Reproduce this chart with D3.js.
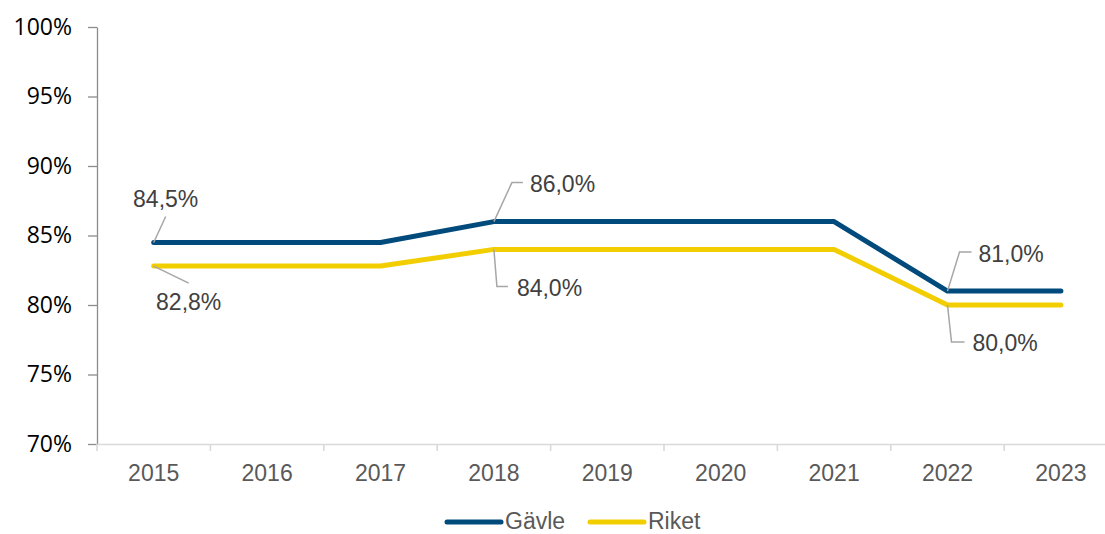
<!DOCTYPE html>
<html>
<head>
<meta charset="utf-8">
<script src="https://cdn.jsdelivr.net/npm/d3@7"></script>
<style>
  body { margin: 0; background: #fff; }
  svg { display: block; }
</style>
</head>
<body>
<div id="chart"></div>
<script>
// data
const years = ["2015", "2016", "2017", "2018", "2019", "2020", "2021", "2022", "2023"];
const gavle = [84.5, 84.5, 84.5, 86.0, 86.0, 86.0, 86.0, 81.0, 81.0];
const riket = [82.8, 82.8, 82.8, 84.0, 84.0, 84.0, 84.0, 80.0, 80.0];
const yTicks = [70, 75, 80, 85, 90, 95, 100];
const seriesNames = ["Gävle", "Riket"];
const seriesColors = ["#004a7c", "#f2ce00"];

// which points carry a label, and how the leader is bent (pixel offsets from the point)
const labelSpots = [
    {s: 0, i: 0, elbow: [12, -26], end: [12, -26], text: [12, -35], anchor: "middle"},
    {s: 1, i: 0, elbow: [35, 17], end: [35, 17], text: [35, 44], anchor: "middle"},
    {s: 0, i: 3, elbow: [18, -39], end: [29, -39], text: [36, -30], anchor: "start"},
    {s: 1, i: 3, elbow: [3, 37], end: [14, 37], text: [23, 47], anchor: "start"},
    {s: 0, i: 7, elbow: [12, -39], end: [24, -39], text: [31, -29], anchor: "start"},
    {s: 1, i: 7, elbow: [4, 37], end: [17, 37], text: [25, 46], anchor: "start"}
];

const config = {
    width: 1105,
    height: 534,
    left: 97,
    top: 27,
    bottom: 444,
    band: 113.4
};

const series = [gavle, riket];
const fmt = (v) => d3.format(".1f")(v).replace(".", ",") + "%";

const svg = d3.select("#chart").append("svg")
    .attr("width", config.width)
    .attr("height", config.height);

const x = d3.scaleBand().domain(years)
    .range([config.left, config.left + config.band * years.length]);
const y = d3.scaleLinear().domain([70, 100]).range([config.bottom, config.top]);
const cx = (i) => x(years[i]) + x.bandwidth() / 2;

// y axis
const yAxis = svg.append("g")
    .attr("transform", `translate(${config.left},0)`)
    .call(d3.axisLeft(y).tickValues(yTicks).tickSize(9).tickSizeOuter(0).tickPadding(16)
        .tickFormat((d) => d + "%"));
yAxis.select(".domain").attr("stroke", "#8c8c8c").attr("stroke-width", 1.3);
yAxis.selectAll(".tick line").attr("stroke", "#8c8c8c").attr("stroke-width", 1.3);
yAxis.selectAll(".tick text")
    .attr("fill", "#000")
    .style("font-family", "'Open Sans', sans-serif")
    .style("font-size", "23px");

// x axis: labels centred, ticks at the band edges
const xAxis = svg.append("g")
    .attr("transform", `translate(0,${config.bottom})`)
    .call(d3.axisBottom(x).tickSize(0).tickPadding(21));
xAxis.select(".domain").attr("stroke", "#d9d9d9").attr("stroke-width", 1.6);
xAxis.selectAll(".tick text")
    .attr("fill", "#595959")
    .style("font-family", "'Liberation Sans', Arial, sans-serif")
    .style("font-size", "23px");

svg.append("g").selectAll("line")
    .data(years.map((d) => x(d)))
    .join("line")
    .attr("x1", (d) => d).attr("x2", (d) => d)
    .attr("y1", config.bottom).attr("y2", config.bottom + 7)
    .attr("stroke", "#d9d9d9").attr("stroke-width", 1.6);

// lines
const line = d3.line()
    .x((d, i) => cx(i))
    .y((d) => y(d));

svg.append("g").selectAll("path")
    .data(series)
    .join("path")
    .attr("d", line)
    .attr("fill", "none")
    .attr("stroke", (d, i) => seriesColors[i])
    .attr("stroke-width", 5)
    .attr("stroke-linecap", "round")
    .attr("stroke-linejoin", "round");

// data labels with leader lines
const labels = svg.append("g");
labelSpots.forEach((l) => {
    const px = cx(l.i), py = y(series[l.s][l.i]);
    labels.append("polyline")
        .attr("points", [[px, py], [px + l.elbow[0], py + l.elbow[1]], [px + l.end[0], py + l.end[1]]].join(" "))
        .attr("fill", "none")
        .attr("stroke", "#a6a6a6")
        .attr("stroke-width", 1.5);
    labels.append("text")
        .attr("x", px + l.text[0])
        .attr("y", py + l.text[1])
        .attr("text-anchor", l.anchor)
        .attr("fill", "#404040")
        .style("font-family", "'Liberation Sans', Arial, sans-serif")
        .style("font-size", "23px")
        .text(fmt(series[l.s][l.i]));
});

// legend
const legendX = [447, 590];
const legend = svg.append("g").selectAll("g")
    .data(seriesNames)
    .join("g")
    .attr("transform", (d, i) => `translate(${legendX[i]},522)`);
legend.append("line")
    .attr("x1", 0).attr("x2", 54)
    .attr("stroke", (d, i) => seriesColors[i])
    .attr("stroke-width", 5)
    .attr("stroke-linecap", "round");
legend.append("text")
    .attr("x", 58).attr("y", 7)
    .attr("fill", "#595959")
    .style("font-family", "'Liberation Sans', Arial, sans-serif")
    .style("font-size", "23px")
    .text((d) => d);
</script>
</body>
</html>
